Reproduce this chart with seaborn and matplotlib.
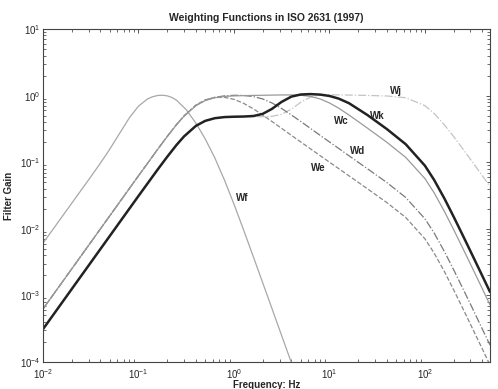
import numpy as np
import pandas as pd
import matplotlib
matplotlib.use("Agg")
import matplotlib.pyplot as plt
import seaborn as sns

# frecvente comune (Hz) pentru Wc, Wd, We, Wj, Wk
freq = [0.01, 0.02, 0.04, 0.063, 0.1, 0.16, 0.2, 0.25, 0.3, 0.4, 0.5, 0.63, 0.8, 1,
        1.25, 1.6, 2, 2.5, 3.15, 4, 5, 6.3, 8, 10, 12.5, 16, 25, 40, 63, 100, 125,
        160, 200, 250, 315, 400, 480]

wk = [3.11e-4, 1.245e-3, 4.98e-3, 0.01235, 0.0311, 0.0787, 0.1206, 0.1812, 0.2439,
      0.352, 0.4178, 0.458, 0.4763, 0.482, 0.485, 0.494, 0.532, 0.632, 0.804, 0.967,
      1.039, 1.054, 1.036, 0.988, 0.902, 0.770, 0.511, 0.314, 0.186, 0.0887, 0.054,
      0.0285, 0.01516, 0.0079, 0.00398, 0.00195, 0.00113]
wc = [6.25e-4, 2.5e-3, 0.01, 0.0248, 0.0624, 0.158, 0.2425, 0.364, 0.4903, 0.707,
      0.8425, 0.928, 0.973, 0.99, 0.999, 1.007, 1.012, 1.018, 1.023, 1.024, 1.012,
      0.974, 0.891, 0.776, 0.648, 0.512, 0.325, 0.199, 0.118, 0.0568, 0.0346,
      0.0182, 0.0097, 0.00506, 0.00255, 0.00125, 0.00072]
wd = [6.25e-4, 2.5e-3, 0.01, 0.0248, 0.0625, 0.158, 0.243, 0.366, 0.4928, 0.713,
      0.853, 0.944, 0.992, 1.011, 1.007, 0.968, 0.891, 0.776, 0.642, 0.512, 0.409,
      0.323, 0.253, 0.2017, 0.161, 0.125, 0.0798, 0.0494, 0.0295, 0.01414, 0.00862,
      0.00455, 0.002425, 0.00126, 6.37e-4, 3.1e-4, 1.8e-4]
we = [6.25e-4, 2.5e-3, 0.01, 0.0248, 0.0626, 0.159, 0.2447, 0.3685, 0.498, 0.723,
      0.8625, 0.938, 0.941, 0.879, 0.772, 0.632, 0.512, 0.409, 0.323, 0.253, 0.2017,
      0.1596, 0.1254, 0.1002, 0.0802, 0.0625, 0.0399, 0.0247, 0.01477, 0.00707,
      0.00431, 0.00228, 0.00121, 6.32e-4, 3.18e-4, 1.56e-4, 9.0e-5]
wj = [3.11e-4, 1.245e-3, 4.98e-3, 0.01235, 0.0311, 0.0787, 0.1206, 0.181, 0.244,
      0.352, 0.418, 0.462, 0.478, 0.484, 0.485, 0.483, 0.4825, 0.4887, 0.5237, 0.628,
      0.793, 0.947, 1.017, 1.029, 1.025, 1.019, 1.006, 0.987, 0.929, 0.707, 0.539,
      0.364, 0.2425, 0.158, 0.1003, 0.0624, 0.0434]

# Wf are propria grila de frecvente
freq_f = [0.01, 0.02, 0.03, 0.04, 0.05, 0.063, 0.08, 0.1, 0.125, 0.14, 0.16, 0.18,
          0.2, 0.225, 0.25, 0.315, 0.4, 0.5, 0.63, 0.8, 1, 1.25, 1.6, 2, 2.5, 3.15,
          4, 5]
wf = [0.00608, 0.0242, 0.0542, 0.0971, 0.1566, 0.2665, 0.4606, 0.6953, 0.8948,
      0.961, 1.006, 1.013, 0.992, 0.935, 0.854, 0.619, 0.385, 0.224, 0.1163, 0.0529,
      0.0235, 0.00996, 0.00377, 0.00155, 6.36e-4, 2.52e-4, 9.7e-5, 3.97e-5]

sns.set_style("white")
plt.rcParams["font.family"] = ["Liberation Sans", "DejaVu Sans"]

fig = plt.figure(figsize=(4.98, 3.89), dpi=100)
ax = fig.add_axes([0.0863, 0.0694, 0.8976, 0.856])

sns.lineplot(x=freq_f, y=wf, ax=ax, color="#a8a8a8", linewidth=0.9, sort=False)
sns.lineplot(x=freq, y=wj, ax=ax, color="#c4c4c4", linewidth=0.9, linestyle="-.", sort=False)
sns.lineplot(x=freq, y=we, ax=ax, color="#8a8a8a", linewidth=0.9, linestyle="--", sort=False)
sns.lineplot(x=freq, y=wd, ax=ax, color="#7a7a7a", linewidth=0.9, linestyle="-.", sort=False)
sns.lineplot(x=freq, y=wc, ax=ax, color="#9a9a9a", linewidth=0.9, sort=False)
sns.lineplot(x=freq, y=wk, ax=ax, color="#222222", linewidth=1.8, sort=False)

ax.set_xscale("log")
ax.set_yscale("log")
ax.set_xlim(0.01, 480)
ax.set_ylim(1e-4, 10)

# etichete pe curbe
etichete = {"Wf": (1.21, 0.029), "Wc": (13.2, 0.42), "Wk": (32, 0.50),
            "Wd": (19.9, 0.149), "We": (7.6, 0.083), "Wj": (50, 1.19)}
for nume, (fx, gy) in etichete.items():
    ax.text(fx, gy, nume, fontsize=7, fontweight="bold", ha="center", va="center")

ax.set_title("Weighting Functions in ISO 2631 (1997)", fontsize=7.5, fontweight="bold", pad=6)
ax.set_xlabel("Frequency: Hz", fontsize=7, fontweight="bold", labelpad=-1)
ax.set_ylabel("Filter Gain", fontsize=7, fontweight="bold", labelpad=4)

ax.tick_params(which="both", direction="in", top=True, right=True, labelsize=7,
               color="#555555")
ax.tick_params(axis="x", pad=4)
ax.tick_params(axis="y", pad=2)
ax.tick_params(which="major", length=3, width=0.7)
ax.tick_params(which="minor", length=2, width=0.6, left=True, bottom=True)
for s in ax.spines.values():
    s.set_color("#444444")
    s.set_linewidth(0.8)

fig.savefig("out.png", dpi=100)
